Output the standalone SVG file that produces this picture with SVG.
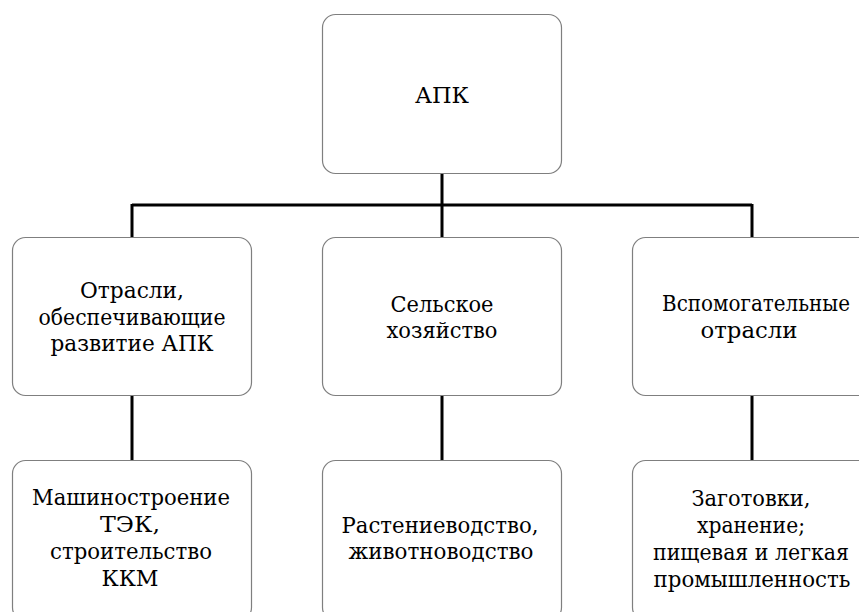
<svg xmlns="http://www.w3.org/2000/svg" width="859" height="612" viewBox="0 0 859 612">
<style>
.box{fill:#fff;stroke:#7f7f7f;stroke-width:1.2}
text{font-family:'DejaVu Serif','Liberation Serif',serif;font-size:23px;fill:#000;text-anchor:middle}
.c{stroke:#000;stroke-width:3;fill:none}
</style>
<rect width="859" height="612" fill="#fff"/>
<g id="connectors">
<path class="c" d="M442 174V205M132 205H752M132 204V237M442 204V237M752 204V237M132 396V460M442 396V460M752 396V460"/>
</g>
<g id="apk">
<rect class="box" x="322.5" y="14.5" width="239" height="159" rx="13"/>
<text x="442" y="103" textLength="54" lengthAdjust="spacingAndGlyphs">АПК</text>
</g>
<g id="otrasli">
<rect class="box" x="12.5" y="237.5" width="239" height="158" rx="13"/>
<text x="132" y="298" textLength="104" lengthAdjust="spacingAndGlyphs">Отрасли,</text>
<text x="132" y="324.5" textLength="187" lengthAdjust="spacingAndGlyphs">обеспечивающие</text>
<text x="132" y="351" textLength="163" lengthAdjust="spacingAndGlyphs">развитие АПК</text>
</g>
<g id="selskoe">
<rect class="box" x="322.5" y="237.5" width="239" height="158" rx="13"/>
<text x="442" y="311.5" textLength="103" lengthAdjust="spacingAndGlyphs">Сельское</text>
<text x="442" y="338" textLength="111" lengthAdjust="spacingAndGlyphs">хозяйство</text>
</g>
<g id="vspom">
<rect class="box" x="632.5" y="237.5" width="239" height="158" rx="13"/>
<text x="756" y="311" textLength="188" lengthAdjust="spacingAndGlyphs">Вспомогательные</text>
<text x="749" y="337.5" textLength="97" lengthAdjust="spacingAndGlyphs">отрасли</text>
</g>
<g id="mash">
<rect class="box" x="12.5" y="460.5" width="239" height="160" rx="13"/>
<text x="131" y="505" textLength="198" lengthAdjust="spacingAndGlyphs">Машиностроение</text>
<text x="130" y="532" textLength="60" lengthAdjust="spacingAndGlyphs">ТЭК,</text>
<text x="131" y="559" textLength="162" lengthAdjust="spacingAndGlyphs">строительство</text>
<text x="130" y="586" textLength="57" lengthAdjust="spacingAndGlyphs">ККМ</text>
</g>
<g id="rast">
<rect class="box" x="322.5" y="460.5" width="239" height="160" rx="13"/>
<text x="440" y="532.5" textLength="197" lengthAdjust="spacingAndGlyphs">Растениеводство,</text>
<text x="441" y="559" textLength="185" lengthAdjust="spacingAndGlyphs">животноводство</text>
</g>
<g id="zag">
<rect class="box" x="632.5" y="460.5" width="239" height="160" rx="13"/>
<text x="751" y="506" textLength="119" lengthAdjust="spacingAndGlyphs">Заготовки,</text>
<text x="751" y="533" textLength="108" lengthAdjust="spacingAndGlyphs">хранение;</text>
<text x="751" y="560" textLength="196" lengthAdjust="spacingAndGlyphs">пищевая и легкая</text>
<text x="752" y="587" textLength="197" lengthAdjust="spacingAndGlyphs">промышленность</text>
</g>
</svg>
